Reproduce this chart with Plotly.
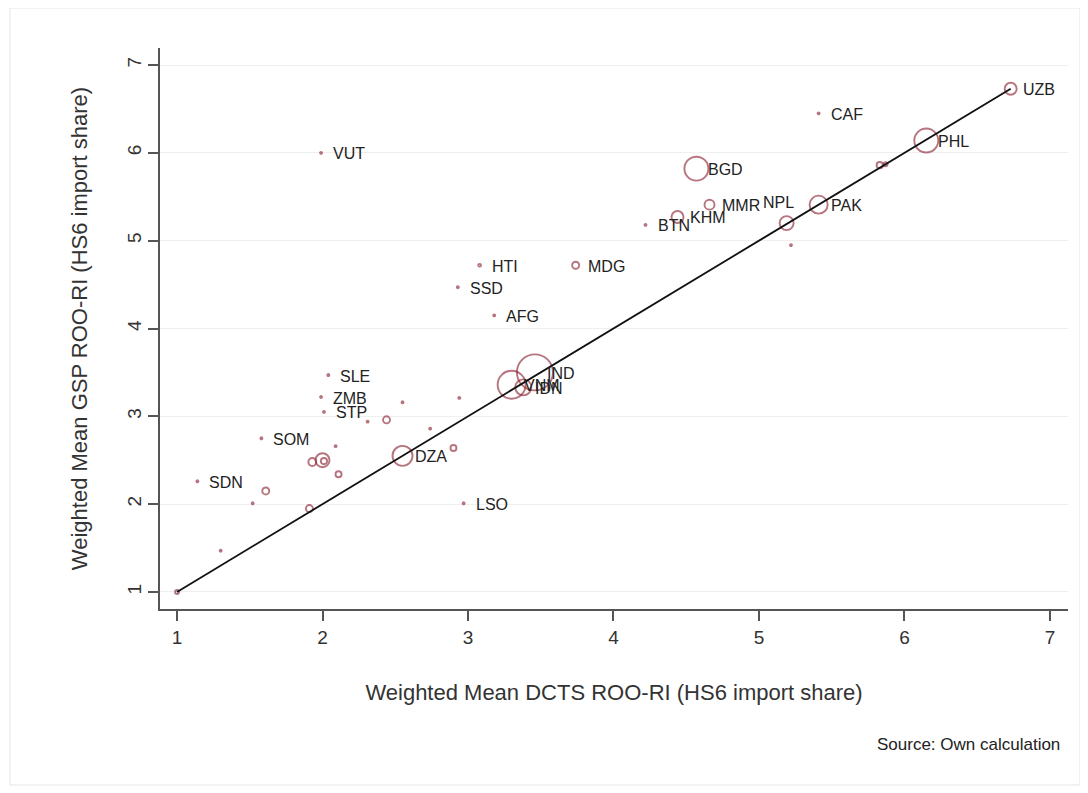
import plotly.graph_objects as go

# ---- data ----
countries = [
    "UZB", "CAF", "PHL", "BGD", "VUT", "PAK", "NPL", "MMR", "KHM", "BTN",
    "MDG", "HTI", "SSD", "AFG", "IND", "VNM", "IDN", "SLE", "ZMB", "STP",
    "SOM", "SDN", "DZA", "LSO",
    "", "", "", "", "", "", "", "", "", "",
    "", "", "", "", "", "", "", "", "",
]
dcts_ri = [
    6.73, 5.41, 6.15, 4.57, 1.99, 5.41, 5.19, 4.66, 4.44, 4.22,
    3.74, 3.08, 2.93, 3.18, 3.46, 3.30, 3.38, 2.04, 1.99, 2.01,
    1.58, 1.14, 2.55, 2.97,
    2.55, 2.94, 2.31, 2.44, 2.74, 2.09, 2.00, 1.93, 2.01, 2.90,
    2.11, 1.61, 1.52, 1.91, 1.30, 1.00, 5.83, 5.87, 5.22,
]
gsp_ri = [
    6.73, 6.45, 6.14, 5.82, 6.00, 5.41, 5.20, 5.41, 5.27, 5.18,
    4.72, 4.72, 4.47, 4.15, 3.50, 3.36, 3.33, 3.47, 3.22, 3.05,
    2.75, 2.26, 2.55, 2.01,
    3.16, 3.21, 2.94, 2.96, 2.86, 2.66, 2.50, 2.48, 2.49, 2.64,
    2.34, 2.15, 2.01, 1.95, 1.47, 1.00, 5.86, 5.87, 4.95,
]
import_weight = [
    1.11, 0.03, 4.44, 4.44, 0.03, 2.50, 1.51, 0.77, 1.11, 0.03,
    0.38, 0.06, 0.03, 0.03, 10.0, 6.05, 1.98, 0.03, 0.03, 0.03,
    0.03, 0.03, 3.09, 0.03,
    0.03, 0.03, 0.03, 0.38, 0.03, 0.03, 1.51, 0.49, 0.30, 0.28,
    0.28, 0.38, 0.03, 0.38, 0.03, 0.12, 0.30, 0.12, 0.03,
]

x_title = "Weighted Mean DCTS ROO-RI (HS6 import share)"
y_title = "Weighted Mean GSP ROO-RI (HS6 import share)"
source_note = "Source: Own calculation"
tick_vals = [1, 2, 3, 4, 5, 6, 7]

MARKER_COLOR = "rgba(140,35,50,0.9)"
FONT = "Liberation Sans, Arial, sans-serif"

fig = go.Figure()

fig.add_trace(go.Scatter(
    x=dcts_ri, y=gsp_ri, mode="markers",
    marker=dict(
        symbol="circle-open",
        size=import_weight,
        sizemode="area",
        sizeref=1 / 64.8,
        color=MARKER_COLOR,
        line=dict(width=1.9, color=MARKER_COLOR),
    ),
    showlegend=False, hoverinfo="skip",
))

lo, hi = min(dcts_ri), max(dcts_ri)
fig.add_trace(go.Scatter(
    x=[lo, hi], y=[lo, hi], mode="lines",
    line=dict(color="#111111", width=1.8),
    showlegend=False, hoverinfo="skip",
))

label_above = {"NPL"}
annotations = []
for c, x, y in zip(countries, dcts_ri, gsp_ri):
    if not c:
        continue
    if c in label_above:
        annotations.append(dict(
            x=x, y=y, xref="x", yref="y", text=c, showarrow=False,
            xanchor="center", yanchor="bottom", xshift=-8, yshift=10,
            font=dict(family=FONT, size=16, color="#222222"),
        ))
    else:
        annotations.append(dict(
            x=x, y=y, xref="x", yref="y", text=c, showarrow=False,
            xanchor="left", yanchor="middle", xshift=10, yshift=-1,
            font=dict(family=FONT, size=16, color="#222222"),
        ))

annotations.append(dict(
    x=0.9934, y=-0.2424, xref="paper", yref="paper", text=source_note,
    showarrow=False, xanchor="right", yanchor="middle",
    font=dict(family=FONT, size=17, color="#222222"),
))

fig.update_layout(
    width=1080, height=785,
    margin=dict(l=152, r=20, t=40, b=184),
    paper_bgcolor="white", plot_bgcolor="white",
    font=dict(family=FONT, color="#333333"),
    annotations=annotations,
    shapes=[dict(
        type="rect", xref="paper", yref="paper",
        x0=-0.1652, x1=1.0132, y0=-0.3137, y1=1.0713,
        line=dict(color="#e6e6e6", width=1), layer="below",
    )],
)

fig.update_xaxes(
    range=[0.883, 7.124], tickvals=tick_vals,
    showgrid=False, zeroline=False,
    showline=True, linecolor="#555555", linewidth=1.5,
    ticks="outside", ticklen=10, tickwidth=1.5, tickcolor="#555555",
    tickfont=dict(family=FONT, size=19, color="#333333"),
    title=dict(text=x_title, standoff=38,
               font=dict(family=FONT, size=22, color="#333333")),
)
fig.update_yaxes(
    range=[0.806, 7.194], tickvals=tick_vals, tickangle=-90,
    showgrid=True, gridcolor="#efefef", gridwidth=1,
    zeroline=False,
    showline=True, linecolor="#555555", linewidth=1.5,
    ticks="outside", ticklen=10, tickwidth=1.5, tickcolor="#555555",
    tickfont=dict(family=FONT, size=19, color="#333333"),
    title=dict(text=y_title, standoff=30,
               font=dict(family=FONT, size=22, color="#333333")),
)

fig.write_html("out.html")
